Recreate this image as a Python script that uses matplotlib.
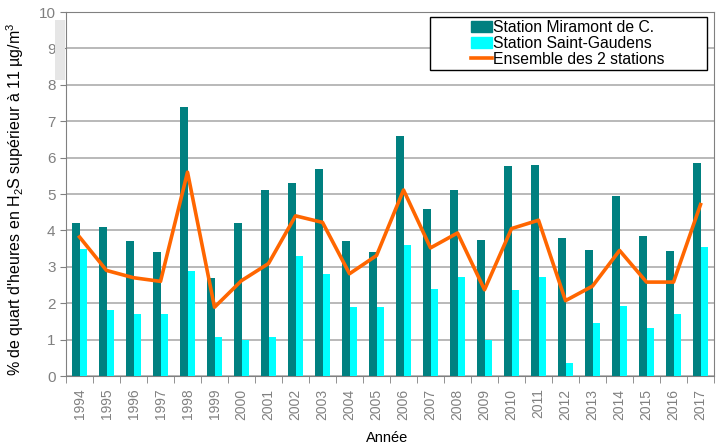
import matplotlib
matplotlib.use('Agg')
import matplotlib.pyplot as plt
import numpy as np
from matplotlib.patches import Rectangle
from matplotlib.lines import Line2D

plt.rcParams['font.family'] = ['Liberation Sans', 'DejaVu Sans']
plt.rcParams['mathtext.fontset'] = 'custom'
plt.rcParams['mathtext.rm'] = 'Liberation Sans'
plt.rcParams['mathtext.it'] = 'Liberation Sans'

years = [str(y) for y in range(1994, 2018)]
miramont = [4.2, 4.1, 3.7, 3.4, 7.4, 2.7, 4.2, 5.1, 5.3, 5.7, 3.7, 3.4,
            6.6, 4.6, 5.1, 3.73, 5.76, 5.8, 3.78, 3.46, 4.94, 3.86, 3.44, 5.84]
saint_gaudens = [3.5, 1.8, 1.7, 1.7, 2.88, 1.08, 1.0, 1.08, 3.3, 2.8, 1.9, 1.9,
                 3.59, 2.38, 2.72, 0.99, 2.35, 2.73, 0.37, 1.45, 1.93, 1.32, 1.69, 3.55]
ensemble = [3.82, 2.9, 2.7, 2.6, 5.6, 1.89, 2.62, 3.09, 4.4, 4.22, 2.81, 3.31,
            5.11, 3.52, 3.93, 2.37, 4.05, 4.28, 2.07, 2.47, 3.45, 2.58, 2.58, 4.71]

dark = '#008080'
light = '#00FFFF'
orange = '#FF6600'
grey = '#808080'

fig = plt.figure(figsize=(7.23, 4.48), dpi=100)
ax = fig.add_axes([0.0913, 0.1607, 0.8963, 0.8125])

# odd grey block at the top left of the original
fig.patches.append(Rectangle((55 / 723, 1 - 80 / 448), 10 / 723, 60 / 448,
                             transform=fig.transFigure, facecolor='#E6E6E6',
                             edgecolor='none', zorder=0))

x = np.arange(len(years))
w = 0.285
ax.bar(x - 0.14, miramont, w, color=dark, zorder=3)
ax.bar(x + 0.145, saint_gaudens, w, color=light, zorder=3)
ax.plot(x, ensemble, color=orange, lw=2.6, zorder=4)

ax.set_xlim(-0.5, len(years) - 0.5)
ax.set_ylim(0, 10)
ax.set_yticks(range(0, 11))
ax.yaxis.grid(True, color='#A6A6A6', lw=1.1)
ax.set_axisbelow(True)

ax.set_xticks(x)
ax.set_xticklabels(years, rotation=90, color=grey, fontsize=10)
ax.set_xticks(np.arange(-0.5, len(years)), minor=True)
ax.tick_params(axis='x', which='major', length=0, pad=9)
ax.tick_params(axis='x', which='minor', length=5, color=grey, direction='out')
ax.tick_params(axis='y', length=4, color=grey, labelcolor=grey, labelsize=11)
for s in ax.spines.values():
    s.set_color(grey)

ax.set_ylabel(r"% de quart d'heures en H$_2$S supérieur à 11 µg/m$^3$", fontsize=11.5)
ax.yaxis.set_label_coords(-0.062, 0.485)
ax.set_xlabel('Année', fontsize=10.5)
ax.xaxis.set_label_coords(0.495, -0.152)

# legend box (wider than its content, as in the original)
ax.add_patch(Rectangle((430 / 723, 1 - 70 / 448), 277 / 723, 53 / 448,
                       transform=fig.transFigure, facecolor='white',
                       edgecolor='black', lw=1.0, zorder=5, clip_on=False))
handles = [Rectangle((0, 0), 1, 1, color=dark),
           Rectangle((0, 0), 1, 1, color=light),
           Line2D([0], [0], color=orange, lw=2.6)]
leg = fig.legend(handles, ['Station Miramont de C.', 'Station Saint-Gaudens',
                           'Ensemble des 2 stations'],
                 loc='upper left', bbox_to_anchor=(468 / 723, 1 - 17 / 448),
                 fontsize=11.3, frameon=False,
                 handlelength=1.3, handletextpad=0.1, labelspacing=0.05,
                 borderpad=0.2, borderaxespad=0)
leg.set_zorder(6)

fig.savefig('out.png', dpi=100)
